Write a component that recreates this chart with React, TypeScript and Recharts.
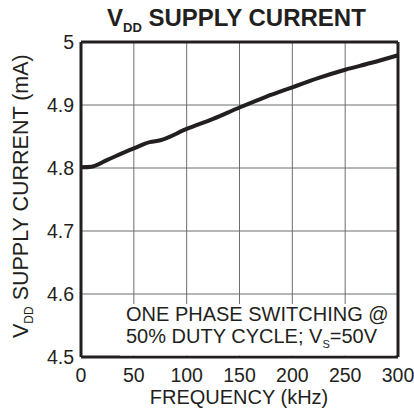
import React from 'react';
import { LineChart, Line, XAxis, YAxis, CartesianGrid, ReferenceLine } from 'recharts';

const frequencyKHz = [0, 10, 25, 50, 65, 75, 100, 125, 150, 175, 200, 225, 250, 275, 300];
const supplyCurrentMA = [4.801, 4.802, 4.813, 4.831, 4.841, 4.844, 4.862, 4.878, 4.896, 4.913, 4.928, 4.943, 4.956, 4.967, 4.979];
const xTicks = [0, 50, 100, 150, 200, 250, 300];
const yTicks = [4.5, 4.6, 4.7, 4.8, 4.9, 5];

const data = frequencyKHz.map((f, i) => ({ f, i: supplyCurrentMA[i] }));

const INK = '#231f20';
const GRID = '#6d6e71';
const FONT = '"Liberation Sans", Arial, Helvetica, sans-serif';

export default function App() {
  return (
    <div style={{ position: 'absolute', left: 0, top: 0, width: 414, height: 414, background: '#fff' }}>
      <LineChart width={414} height={414} data={data} margin={{ top: 42, right: 16, bottom: 0, left: 0 }}>
        <CartesianGrid stroke={GRID} strokeWidth={1} />
        <XAxis
          dataKey="f"
          type="number"
          domain={[0, 300]}
          ticks={xTicks}
          height={57}
          tickLine={false}
          tickSize={0}
          tickMargin={11}
          axisLine={{ stroke: INK, strokeWidth: 3 }}
          tick={{ fontSize: 19.5, fill: INK, fontFamily: FONT }}
          interval={0}
        />
        <YAxis
          type="number"
          domain={[4.5, 5]}
          ticks={yTicks}
          width={81}
          tickLine={false}
          tickSize={0}
          tickMargin={7}
          axisLine={{ stroke: INK, strokeWidth: 3 }}
          tick={{ fontSize: 19.5, fill: INK, fontFamily: FONT }}
          interval={0}
        />
        <ReferenceLine x={300} stroke={INK} strokeWidth={3} />
        <ReferenceLine y={5} stroke={INK} strokeWidth={3} />
        <Line dataKey="i" type="monotone" stroke={INK} strokeWidth={4} dot={false} isAnimationActive={false} />
      </LineChart>
      <svg width={414} height={414} style={{ position: 'absolute', left: 0, top: 0, pointerEvents: 'none' }}>
        <text x={107} y={26} fontFamily={FONT} fontWeight="bold" fontSize={24} fill={INK}>
          V<tspan fontSize={13} dy={6}>DD</tspan><tspan dy={-6}> SUPPLY CURRENT</tspan>
        </text>
        <text x={28} y={338} transform="rotate(-90, 28, 338)" fontFamily={FONT} fontSize={21.5} fill={INK}>
          V<tspan fontSize={12} dy={5}>DD</tspan><tspan dy={-5}> SUPPLY CURRENT (mA)</tspan>
        </text>
        <text x={239} y={404} textAnchor="middle" fontFamily={FONT} fontSize={20} fill={INK}>
          FREQUENCY (kHz)
        </text>
        <rect x={120} y={304} width={275} height={51.5} fill="#fff" />
        <text x={126} y={321} fontFamily={FONT} fontSize={20} fill={INK}>
          ONE PHASE SWITCHING @
        </text>
        <text x={126} y={343} fontFamily={FONT} fontSize={20} fill={INK}>
          50% DUTY CYCLE; V<tspan fontSize={11} dy={5}>S</tspan><tspan dy={-5}>=50V</tspan>
        </text>
      </svg>
    </div>
  );
}
